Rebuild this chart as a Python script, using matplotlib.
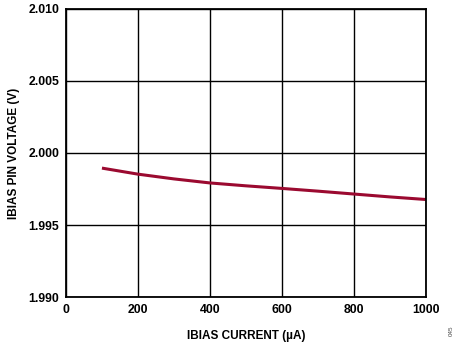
import numpy as np
import matplotlib
matplotlib.use("Agg")
from matplotlib import pyplot as plt

plt.rcParams['font.family'] = ['Liberation Sans', 'DejaVu Sans']

# data
current_ua = [100, 200, 300, 400, 500, 600, 700, 800, 900, 1000]
pin_voltage = [1.99895, 1.99853, 1.99820, 1.99792, 1.99772, 1.99754, 1.99735, 1.99715, 1.99695, 1.99677]
x_ticks = [0, 200, 400, 600, 800, 1000]
y_ticks = [1.990, 1.995, 2.000, 2.005, 2.010]

fig = plt.figure(figsize=(4.58, 3.43), dpi=100)
ax = fig.add_axes([0.144, 0.134, 0.786, 0.840])

ax.plot(current_ua, pin_voltage, color='#9b0a30', lw=2.2, solid_capstyle='butt')

ax.set_xlim(0, 1000)
ax.set_ylim(1.990, 2.010)
ax.set_xticks(x_ticks)
ax.set_yticks(y_ticks)
ax.set_yticklabels([f"{v:.3f}" for v in y_ticks])
ax.grid(True, color='black', lw=1.0)
ax.tick_params(length=0, labelsize=8.8, pad=5)
for lbl in ax.get_xticklabels() + ax.get_yticklabels():
    lbl.set_fontweight('bold')
for s in ax.spines.values():
    s.set_linewidth(1.3)

ax.set_xlabel('IBIAS CURRENT (µA)', fontsize=8.5, fontweight='bold', labelpad=10)
ax.set_ylabel('IBIAS PIN VOLTAGE (V)', fontsize=8.5, fontweight='bold', labelpad=6)

fig.text(0.985, 0.035, '045', rotation=90, fontsize=4.5, color='#444444', ha='center', va='center')

fig.savefig('out.png', dpi=100)
